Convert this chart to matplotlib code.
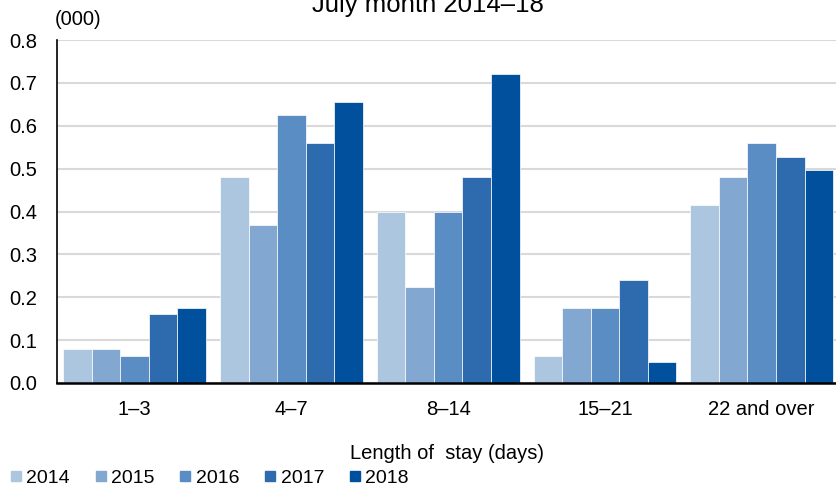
import numpy as np
import matplotlib.pyplot as plt
from matplotlib.lines import Line2D

plt.rcParams['font.family'] = ['Liberation Sans', 'DejaVu Sans']

# Data (thousands)
stays = ['1–3', '4–7', '8–14', '15–21', '22 and over']
years = ['2014', '2015', '2016', '2017', '2018']
y2014 = [0.080, 0.480, 0.400, 0.064, 0.416]
y2015 = [0.080, 0.368, 0.224, 0.176, 0.480]
y2016 = [0.064, 0.624, 0.400, 0.176, 0.560]
y2017 = [0.160, 0.560, 0.480, 0.240, 0.528]
y2018 = [0.176, 0.656, 0.720, 0.048, 0.496]
series = [y2014, y2015, y2016, y2017, y2018]
colors = ['#adc6e0', '#82a8d1', '#5a8dc3', '#2e6bae', '#00509e']

fig = plt.figure(figsize=(8.37, 4.88), dpi=100)
ax = fig.add_axes([57 / 837, 1 - 383 / 488, 780 / 837, 343 / 488])

x = np.arange(len(stays))
w = 0.182
for i, vals in enumerate(series):
    ax.bar(x + (i - 2) * w, vals, width=w, color=colors[i],
           edgecolor='white', linewidth=0.5, zorder=3)

ax.set_xlim(-0.495, 4.48)
ax.set_ylim(0, 0.8)
ax.set_yticks(np.arange(0, 0.81, 0.1))
ax.set_yticklabels([f'{v:.1f}' for v in np.arange(0, 0.81, 0.1)])
ax.set_xticks(x)
ax.set_xticklabels(stays)
ax.tick_params(axis='both', length=0, labelsize=14.5)
ax.tick_params(axis='y', pad=14)
ax.tick_params(axis='x', pad=12)

ax.grid(axis='y', color='#d9d9d9', linewidth=1.5, zorder=0)
ax.set_axisbelow(True)
for s in ['top', 'right']:
    ax.spines[s].set_visible(False)
ax.spines['left'].set_linewidth(1.2)
ax.spines['bottom'].set_linewidth(1.8)
ax.spines['left'].set_zorder(5)
ax.spines['bottom'].set_zorder(5)

ax.set_xlabel('Length of  stay (days)', fontsize=14.5, labelpad=18)

fig.text(428 / 837, 1 - 12 / 488, 'July month 2014–18', ha='center',
         va='baseline', fontsize=18.5)
fig.text(55 / 837, 1 - 25 / 488, '(000)', ha='left', va='baseline', fontsize=14.5)

handles = [Line2D([], [], marker='s', linestyle='none', markersize=7,
                  color=c) for c in colors]
fig.legend(handles, years, loc='center left', bbox_to_anchor=(6 / 837, 1 - 478 / 488),
           ncol=5, frameon=False, fontsize=14, handlelength=0.6,
           handletextpad=0.25, columnspacing=1.27, borderaxespad=0,
           borderpad=0.2)

fig.savefig('out.png', dpi=100)
